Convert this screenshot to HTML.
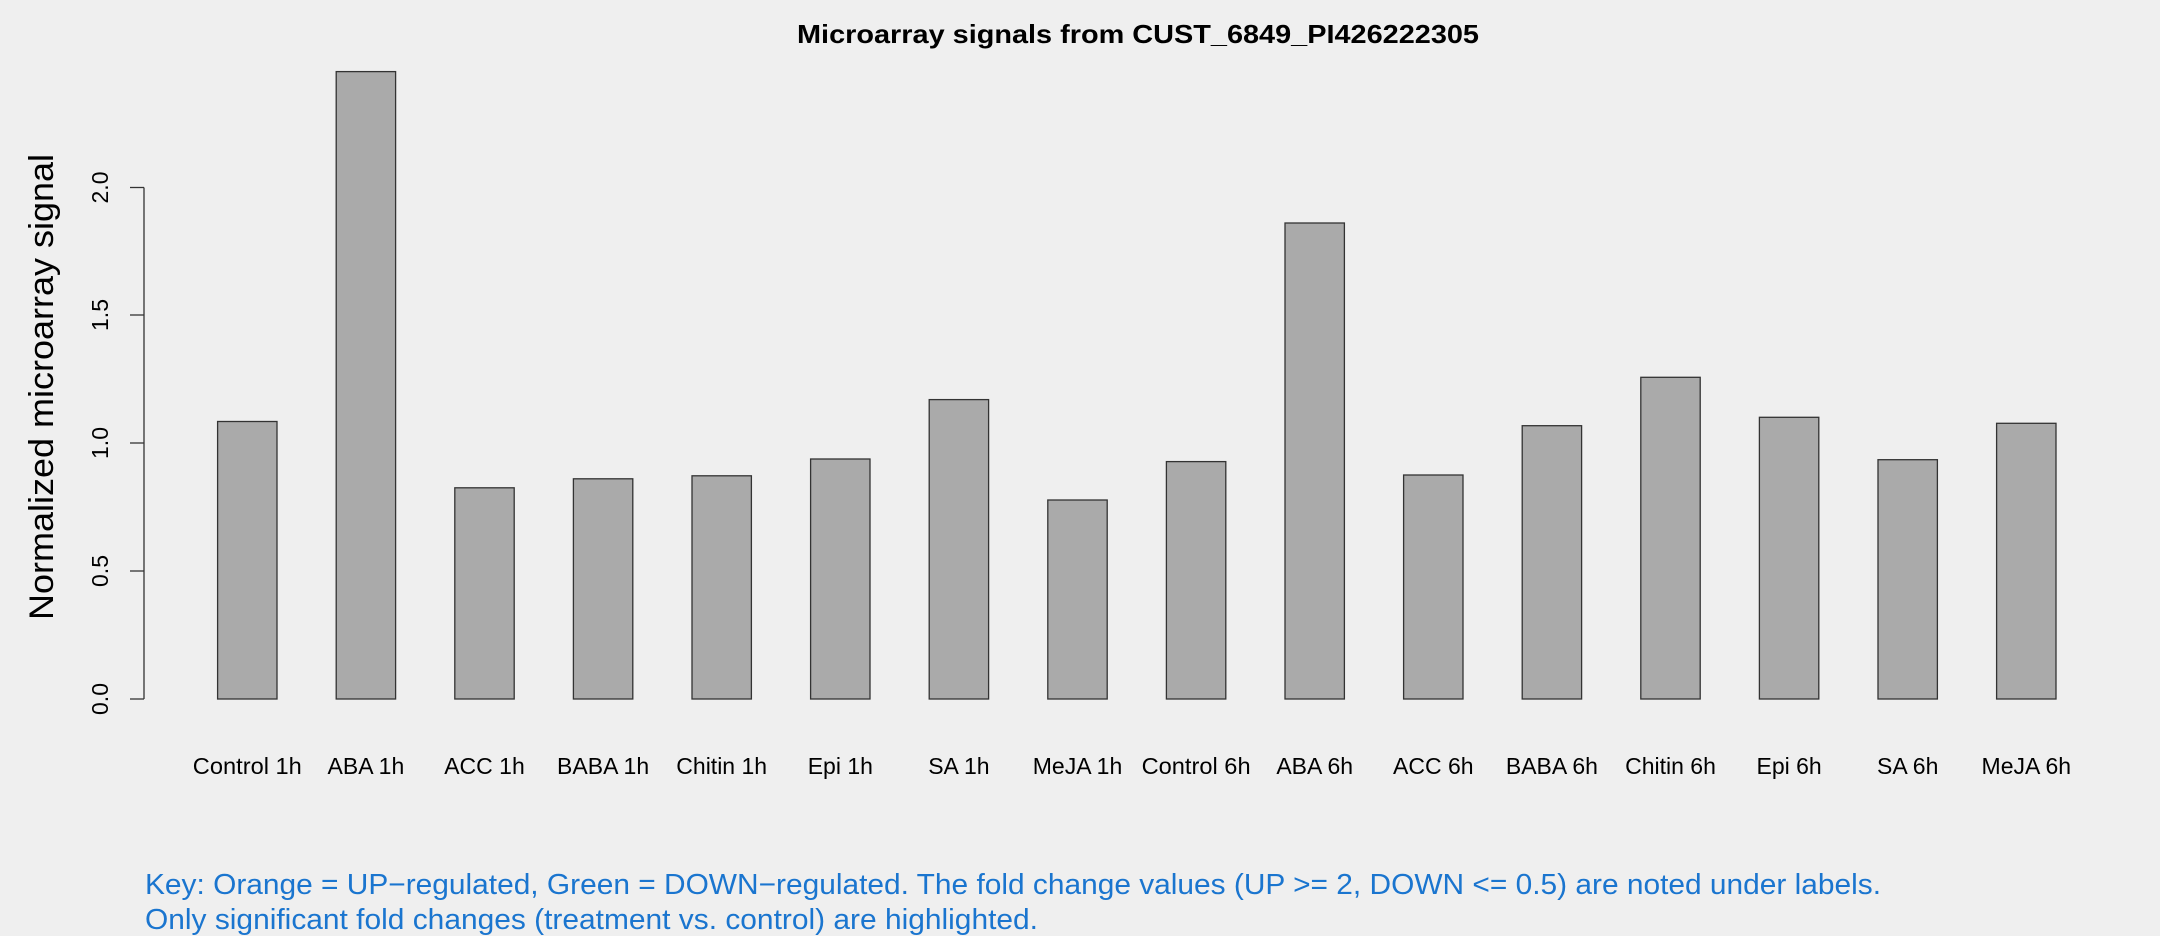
<!DOCTYPE html>
<html><head><meta charset="utf-8"><style>
html,body{margin:0;padding:0;background:#efefef;}
svg{display:block;}
</style></head><body>
<svg width="2160" height="936" viewBox="0 0 2160 936" xmlns="http://www.w3.org/2000/svg" font-family="Liberation Sans, sans-serif">
<rect width="2160" height="936" fill="#efefef"/>
<text x="1138" y="43" font-size="26" font-weight="bold" text-anchor="middle" textLength="682" lengthAdjust="spacingAndGlyphs">Microarray signals from CUST_6849_PI426222305</text>
<text transform="translate(42,387) rotate(-90)" font-size="34" text-anchor="middle" dominant-baseline="central" textLength="466" lengthAdjust="spacingAndGlyphs">Normalized microarray signal</text>
<g stroke="#333" stroke-width="1.3" fill="none">
<line x1="144" y1="187.5" x2="144" y2="699"/>
<line x1="130" y1="699" x2="144" y2="699"/>
<line x1="130" y1="571" x2="144" y2="571"/>
<line x1="130" y1="443" x2="144" y2="443"/>
<line x1="130" y1="315" x2="144" y2="315"/>
<line x1="130" y1="187.5" x2="144" y2="187.5"/>
</g>
<g font-size="23" text-anchor="middle">
<text transform="translate(108,699) rotate(-90)">0.0</text>
<text transform="translate(108,571) rotate(-90)">0.5</text>
<text transform="translate(108,443) rotate(-90)">1.0</text>
<text transform="translate(108,315) rotate(-90)">1.5</text>
<text transform="translate(108,187.5) rotate(-90)">2.0</text>
</g>
<g fill="#aaaaaa" stroke="#333" stroke-width="1.3">
<rect x="217.6" y="421.5" width="59.4" height="277.5"/>
<rect x="336.2" y="71.6" width="59.4" height="627.4"/>
<rect x="454.8" y="487.8" width="59.4" height="211.2"/>
<rect x="573.4" y="478.8" width="59.4" height="220.2"/>
<rect x="692" y="475.8" width="59.4" height="223.2"/>
<rect x="810.6" y="459" width="59.4" height="240"/>
<rect x="929.2" y="399.6" width="59.4" height="299.4"/>
<rect x="1047.8" y="500" width="59.4" height="199"/>
<rect x="1166.4" y="461.6" width="59.4" height="237.4"/>
<rect x="1285" y="223" width="59.4" height="476"/>
<rect x="1403.6" y="475" width="59.4" height="224"/>
<rect x="1522.2" y="425.7" width="59.4" height="273.3"/>
<rect x="1640.8" y="377.3" width="59.4" height="321.7"/>
<rect x="1759.4" y="417.3" width="59.4" height="281.7"/>
<rect x="1878" y="459.7" width="59.4" height="239.3"/>
<rect x="1996.6" y="423.3" width="59.4" height="275.7"/>
</g>
<g font-size="23" text-anchor="middle">
<text x="247.3" y="774" textLength="109" lengthAdjust="spacingAndGlyphs">Control 1h</text>
<text x="365.9" y="774">ABA 1h</text>
<text x="484.5" y="774">ACC 1h</text>
<text x="603.1" y="774">BABA 1h</text>
<text x="721.7" y="774">Chitin 1h</text>
<text x="840.3" y="774">Epi 1h</text>
<text x="958.9" y="774">SA 1h</text>
<text x="1077.5" y="774">MeJA 1h</text>
<text x="1196.1" y="774" textLength="109" lengthAdjust="spacingAndGlyphs">Control 6h</text>
<text x="1314.7" y="774">ABA 6h</text>
<text x="1433.3" y="774">ACC 6h</text>
<text x="1551.9" y="774">BABA 6h</text>
<text x="1670.5" y="774">Chitin 6h</text>
<text x="1789.1" y="774">Epi 6h</text>
<text x="1907.7" y="774">SA 6h</text>
<text x="2026.3" y="774">MeJA 6h</text>
</g>
<g font-size="29" fill="#1a75cf">
<text x="145" y="894" textLength="1736" lengthAdjust="spacingAndGlyphs">Key: Orange = UP−regulated, Green = DOWN−regulated. The fold change values (UP &gt;= 2, DOWN &lt;= 0.5) are noted under labels.</text>
<text x="145" y="929" textLength="893" lengthAdjust="spacingAndGlyphs">Only significant fold changes (treatment vs. control) are highlighted.</text>
</g>
</svg>
</body></html>
